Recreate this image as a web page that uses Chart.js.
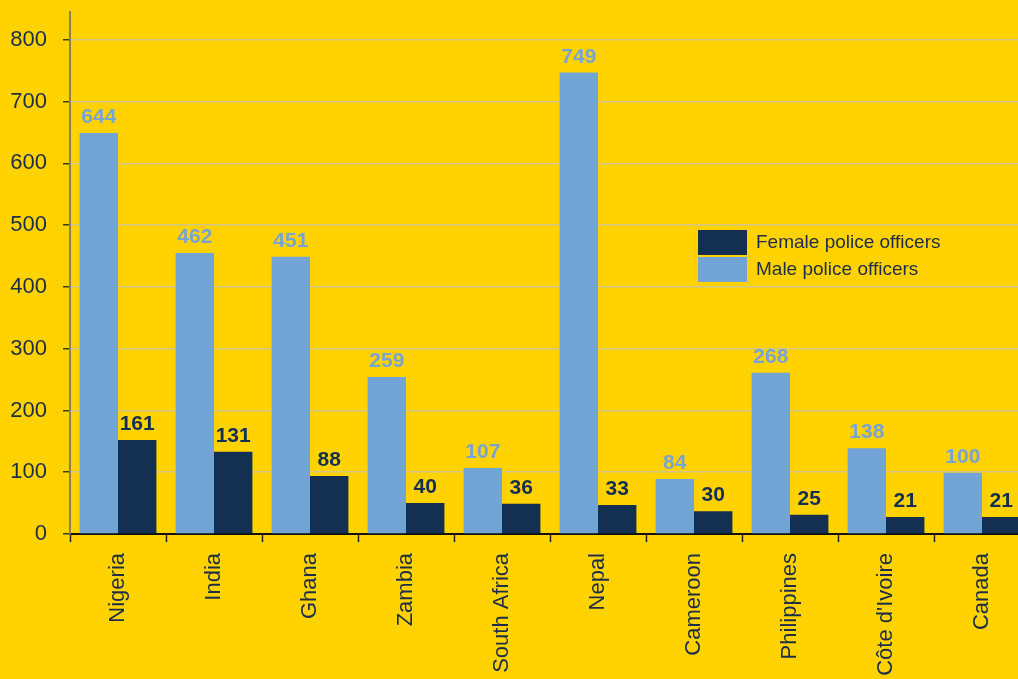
<!DOCTYPE html>
<html>
<head>
<meta charset="utf-8">
<script src="https://cdn.jsdelivr.net/npm/chart.js@4.4.0/dist/chart.umd.min.js"></script>
<style>
    html, body { margin: 0; padding: 0; background: #ffd200; overflow: hidden; }
    #wrap { width: 1018px; height: 679px; overflow: hidden; }
</style>
</head>
<body>
<div id="wrap"><canvas id="police" width="1040" height="679"></canvas></div>
<script>
// countries along the x axis
const countries = ['Nigeria', 'India', 'Ghana', 'Zambia', 'South Africa', 'Nepal',
    'Cameroon', 'Philippines', 'Côte d\'Ivoire', 'Canada'];

// bar heights as drawn in the picture
const maleBars = [649, 455, 449, 254, 107, 747, 89, 261, 139, 99];
const femaleBars = [152, 133, 94, 50, 49, 47, 37, 31, 27.5, 27.5];

// numbers printed above the bars
const maleLabels = [644, 462, 451, 259, 107, 749, 84, 268, 138, 100];
const femaleLabels = [161, 131, 88, 40, 36, 33, 30, 25, 21, 21];

const yTicks = [0, 100, 200, 300, 400, 500, 600, 700, 800];

const MALE = '#72a4d6';
const FEMALE = '#133052';
const TEXT = '#1c2d4a';

const valueLabels = {
    id: 'valueLabels',
    afterDatasetsDraw(chart) {
        const ctx = chart.ctx;
        const texts = [maleLabels, femaleLabels];
        const colors = ['#78a4d2', FEMALE];
        ctx.save();
        ctx.font = 'bold 21px "Liberation Sans", Arial, sans-serif';
        ctx.textAlign = 'center';
        ctx.textBaseline = 'alphabetic';
        chart.data.datasets.forEach((ds, d) => {
            chart.getDatasetMeta(d).data.forEach((bar, i) => {
                ctx.fillStyle = colors[d];
                ctx.fillText(texts[d][i], bar.x, bar.y - 10);
            });
        });
        ctx.restore();
    }
};

// legend sits inside the plot, female first
const boxLegend = {
    id: 'boxLegend',
    afterDraw(chart) {
        const ctx = chart.ctx;
        const items = [chart.data.datasets[1], chart.data.datasets[0]];
        ctx.save();
        ctx.font = '19px "Liberation Sans", Arial, sans-serif';
        ctx.textBaseline = 'middle';
        items.forEach((ds, i) => {
            const y = 230 + i * 27;
            ctx.fillStyle = ds.backgroundColor;
            ctx.fillRect(698, y, 49, 25);
            ctx.fillStyle = TEXT;
            ctx.fillText(ds.label, 756, y + 13);
        });
        ctx.restore();
    }
};

const chart = new Chart(document.getElementById('police'), {
    type: 'bar',
    data: {
        labels: countries,
        datasets: [
            {
                label: 'Male police officers',
                data: maleBars,
                backgroundColor: MALE,
                categoryPercentage: 0.8,
                barPercentage: 1.0
            },
            {
                label: 'Female police officers',
                data: femaleBars,
                backgroundColor: FEMALE,
                categoryPercentage: 0.8,
                barPercentage: 1.0
            }
        ]
    },
    options: {
        responsive: false,
        animation: false,
        layout: { padding: { top: 12, right: 10, left: 0, bottom: 0 } },
        plugins: {
            legend: { display: false },
            tooltip: { enabled: false }
        },
        scales: {
            x: {
                afterFit(scale) { scale.height = 145; },
                grid: {
                    offset: true,
                    drawOnChartArea: false,
                    tickLength: 8,
                    tickColor: '#222',
                    tickWidth: 1.5
                },
                border: { color: '#111', width: 2 },
                ticks: {
                    autoSkip: false,
                    maxRotation: 90,
                    minRotation: 90,
                    padding: 11,
                    color: TEXT,
                    font: { family: '"Liberation Sans", Arial, sans-serif', size: 22 }
                }
            },
            y: {
                min: 0,
                max: 845,
                afterFit(scale) {
                    scale.width = 70;
                    scale.paddingTop = 0;
                    scale.paddingBottom = 0;
                },
                afterBuildTicks(scale) {
                    scale.ticks = yTicks.map(v => ({ value: v }));
                },
                grid: {
                    color: '#d3c58c',
                    lineWidth: 1.5,
                    tickLength: 7,
                    tickColor: '#3a3a30'
                },
                border: { color: '#8a7f5a', width: 2 },
                ticks: {
                    padding: 16,
                    color: TEXT,
                    font: { family: '"Liberation Sans", Arial, sans-serif', size: 22 }
                }
            }
        }
    },
    plugins: [valueLabels, boxLegend]
});
</script>
</body>
</html>
